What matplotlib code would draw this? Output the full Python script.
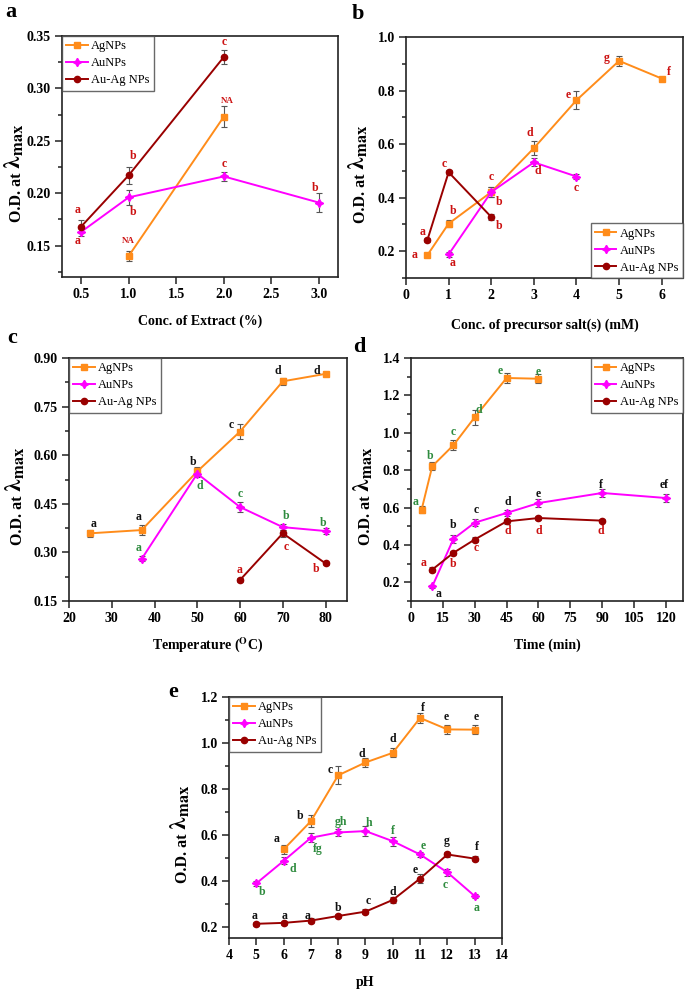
import matplotlib.pyplot as plt
from matplotlib.ticker import MultipleLocator, FormatStrFormatter
from matplotlib.transforms import offset_copy

plt.rcParams['font.family'] = ['Liberation Serif', 'DejaVu Serif']
plt.rcParams['font.weight'] = 'bold'
plt.rcParams['axes.labelweight'] = 'bold'
plt.rcParams['mathtext.fontset'] = 'stix'

AG_COL = '#FF8C1A'
AU_COL = '#FF00FF'
MIX_COL = '#990000'
RED = '#CC1111'
GREEN = '#2E8B3E'
BLACK = '#111111'

# ---------------- a : concentration of extract
a_ag_x = [1.0, 2.0]
a_ag_y = [0.140, 0.273]
a_ag_err = [0.005, 0.010]
a_ag_grp = ["NA", "NA"]
a_au_x = [0.5, 1.0, 2.0, 3.0]
a_au_y = [0.163, 0.196, 0.216, 0.191]
a_au_err = [0.004, 0.007, 0.004, 0.009]
a_au_grp = ["a", "b", "c", "b"]
a_mix_x = [0.5, 1.0, 2.0]
a_mix_y = [0.168, 0.217, 0.330]
a_mix_err = [0.006, 0.008, 0.007]
a_mix_grp = ["a", "b", "c"]

# ---------------- b : precursor salt
b_ag_x = [0.5, 1, 2, 3, 4, 5, 6]
b_ag_y = [0.185, 0.303, 0.421, 0.585, 0.764, 0.911, 0.845]
b_ag_err = [0.005, 0.012, 0.018, 0.025, 0.034, 0.018, 0.005]
b_ag_grp = ["a", "b", "c", "d", "e", "g", "f"]
b_au_x = [1, 2, 3, 4]
b_au_y = [0.188, 0.421, 0.532, 0.479]
b_au_err = [0.008, 0.02, 0.015, 0.01]
b_au_grp = ["a", "b", "d", "c"]
b_mix_x = [0.5, 1, 2]
b_mix_y = [0.241, 0.495, 0.328]
b_mix_err = [0.008, 0.008, 0.01]
b_mix_grp = ["a", "c", "b"]

# ---------------- c : temperature
c_ag_x = [25, 37, 50, 60, 70, 80]
c_ag_y = [0.359, 0.369, 0.550, 0.673, 0.828, 0.851]
c_ag_err = [0.01, 0.015, 0.015, 0.022, 0.01, 0.007]
c_ag_grp = ["a", "a", "b", "c", "d", "d"]
c_au_x = [37, 50, 60, 70, 80]
c_au_y = [0.280, 0.543, 0.440, 0.378, 0.366]
c_au_err = [0.008, 0.01, 0.015, 0.01, 0.01]
c_au_grp = ["a", "d", "c", "b", "b"]
c_mix_x = [60, 70, 80]
c_mix_y = [0.215, 0.359, 0.266]
c_mix_err = [0.006, 0.01, 0.005]
c_mix_grp = ["a", "c", "b"]

# ---------------- d : time
d_ag_x = [5, 10, 20, 30, 45, 60]
d_ag_y = [0.589, 0.821, 0.934, 1.083, 1.293, 1.289]
d_ag_err = [0.02, 0.02, 0.025, 0.04, 0.025, 0.025]
d_ag_grp = ["a", "b", "c", "d", "e", "e"]
d_au_x = [10, 20, 30, 45, 60, 90, 120]
d_au_y = [0.178, 0.433, 0.519, 0.571, 0.624, 0.678, 0.651]
d_au_err = [0.01, 0.02, 0.02, 0.015, 0.02, 0.02, 0.02]
d_au_grp = ["a", "b", "c", "d", "e", "f", "ef"]
d_mix_x = [10, 20, 30, 45, 60, 90]
d_mix_y = [0.268, 0.358, 0.429, 0.526, 0.544, 0.530]
d_mix_err = [0.015, 0.01, 0.015, 0.015, 0.01, 0.008]
d_mix_grp = ["a", "b", "c", "d", "d", "d"]

# ---------------- e : pH
e_ag_x = [6, 7, 8, 9, 10, 11, 12, 13]
e_ag_y = [0.536, 0.659, 0.859, 0.915, 0.957, 1.109, 1.059, 1.058]
e_ag_err = [0.02, 0.025, 0.04, 0.02, 0.02, 0.02, 0.02, 0.02]
e_ag_grp = ["a", "b", "c", "d", "d", "f", "e", "e"]
e_au_x = [5, 6, 7, 8, 9, 10, 11, 12, 13]
e_au_y = [0.388, 0.486, 0.587, 0.610, 0.616, 0.572, 0.514, 0.436, 0.333]
e_au_err = [0.01, 0.015, 0.02, 0.015, 0.02, 0.02, 0.01, 0.015, 0.01]
e_au_grp = ["b", "d", "fg", "gh", "h", "f", "e", "c", "a"]
e_mix_x = [5, 6, 7, 8, 9, 10, 11, 12, 13]
e_mix_y = [0.212, 0.216, 0.226, 0.246, 0.265, 0.316, 0.409, 0.514, 0.496]
e_mix_err = [0.01, 0.01, 0.01, 0.01, 0.01, 0.012, 0.02, 0.01, 0.01]
e_mix_grp = ["a", "a", "a", "b", "c", "d", "e", "g", "f"]

# letter offsets (pixels) from the point
a_ag_off = [(0, 15), (3, 16)]
a_au_off = [(-3, -9), (4, -15), (0, 12), (-4, 15)]
a_mix_off = [(-3, 17), (4, 19), (0, 15)]
b_ag_off = [(-13, 0), (4, 13), (0, 15), (-4, 15), (-8, 5), (-12, 3), (7, 7)]
b_au_off = [(4, -9), (8, -10), (4, -9), (0, -11)]
b_mix_off = [(-5, 8), (-4, 8), (8, -9)]
c_ag_off = [(3, 9), (-3, 13), (-4, 9), (-9, 7), (-5, 10), (-9, 3)]
c_au_off = [(-3, 11), (3, -12), (0, 13), (3, 11), (-2, 8)]
c_mix_off = [(0, 10), (3, -14), (-9, -6)]
d_ag_off = [(-6, 8), (-2, 10), (0, 13), (4, 7), (-6, 7), (0, 7)]
d_au_off = [(6, -8), (0, 14), (1, 13), (1, 11), (0, 9), (-1, 8), (-2, 13)]
d_mix_off = [(-9, 7), (0, -11), (1, -8), (1, -10), (0, -13), (-1, -10)]
e_ag_off = [(-7, 10), (-11, 5), (-8, 5), (-4, 8), (0, 14), (3, 10), (-1, 12), (2, 13)]
e_au_off = [(6, -9), (9, -8), (7, -11), (3, 10), (4, 8), (0, 10), (3, 8), (-2, -13), (2, -12)]
e_mix_off = [(-2, 8), (1, 7), (-3, 5), (0, 8), (3, 11), (0, 8), (-5, 9), (-1, 13), (2, 12)]


def series(ax, x, y, err, color, marker, grp, off, tcol, ms=4.5):
    c = ax.errorbar(x, y, yerr=err, color=color, marker=marker, ms=ms, lw=1.4,
                    ecolor='#555555', elinewidth=0.8, capsize=2, capthick=0.8)
    for xi, yi, g, (dx, dy) in zip(x, y, grp, off):
        fs = 6.5 if g == "NA" else 8.5
        ax.annotate(g, (xi, yi), xytext=(dx, dy), textcoords='offset pixels',
                    ha='center', va='center', color=tcol, fontsize=fs, fontweight='bold')
    return c[0]


def frame(ax, xlim, ylim, xstep, ystep, yminor, xfmt, yfmt, xlabel, xl_y, yl_dx):
    ax.set_xlim(xlim)
    ax.set_ylim(ylim)
    ax.xaxis.set_major_locator(MultipleLocator(xstep))
    ax.yaxis.set_major_locator(MultipleLocator(ystep))
    ax.yaxis.set_minor_locator(MultipleLocator(yminor))
    ax.xaxis.set_major_formatter(FormatStrFormatter(xfmt))
    ax.yaxis.set_major_formatter(FormatStrFormatter(yfmt))
    ax.tick_params(which='both', direction='out', top=False, right=False, width=1.1, colors='#222222')
    ax.tick_params(which='major', length=5, labelsize=10, pad=3, labelcolor='black')
    ax.tick_params(which='minor', length=3)
    for s in ax.spines.values():
        s.set_linewidth(1.2)
        s.set_color('#222222')
    ax.set_xlabel(xlabel, fontsize=10, va='center')
    ax.xaxis.set_label_coords(0.5, xl_y)
    # y label: "O.D. at" plus a larger lambda_max, both rotated
    tr = offset_copy(ax.transAxes, fig=ax.figure, x=yl_dx, y=0, units='dots')
    ax.text(0, 0.435, 'O.D. at', transform=tr, rotation=90, rotation_mode='anchor',
            ha='right', va='baseline', fontsize=11.5, fontweight='bold')
    ax.text(0, 0.447, r'$\mathrm{\lambda}_{\mathbf{max}}$', transform=tr, rotation=90,
            rotation_mode='anchor', ha='left', va='baseline', fontsize=17)


fig = plt.figure(figsize=(6.85, 9.9), dpi=100)
ax_a = fig.add_axes([0.0905, 0.7202, 0.403, 0.2434])
ax_b = fig.add_axes([0.5927, 0.7192, 0.4044, 0.2434])
ax_c = fig.add_axes([0.1007, 0.3929, 0.4058, 0.2455])
ax_d = fig.add_axes([0.6, 0.3929, 0.397, 0.2455])
ax_e = fig.add_axes([0.3343, 0.0525, 0.3985, 0.2434])

STAR = (4, 1, 0)
panels = [
    (ax_a, (a_ag_x, a_ag_y, a_ag_err, a_ag_grp, a_ag_off, RED),
     (a_au_x, a_au_y, a_au_err, a_au_grp, a_au_off, RED),
     (a_mix_x, a_mix_y, a_mix_err, a_mix_grp, a_mix_off, RED)),
    (ax_b, (b_ag_x, b_ag_y, b_ag_err, b_ag_grp, b_ag_off, RED),
     (b_au_x, b_au_y, b_au_err, b_au_grp, b_au_off, RED),
     (b_mix_x, b_mix_y, b_mix_err, b_mix_grp, b_mix_off, RED)),
    (ax_c, (c_ag_x, c_ag_y, c_ag_err, c_ag_grp, c_ag_off, BLACK),
     (c_au_x, c_au_y, c_au_err, c_au_grp, c_au_off, GREEN),
     (c_mix_x, c_mix_y, c_mix_err, c_mix_grp, c_mix_off, RED)),
    (ax_d, (d_ag_x, d_ag_y, d_ag_err, d_ag_grp, d_ag_off, GREEN),
     (d_au_x, d_au_y, d_au_err, d_au_grp, d_au_off, BLACK),
     (d_mix_x, d_mix_y, d_mix_err, d_mix_grp, d_mix_off, RED)),
    (ax_e, (e_ag_x, e_ag_y, e_ag_err, e_ag_grp, e_ag_off, BLACK),
     (e_au_x, e_au_y, e_au_err, e_au_grp, e_au_off, GREEN),
     (e_mix_x, e_mix_y, e_mix_err, e_mix_grp, e_mix_off, BLACK)),
]

handles = {}
for ax, ag, au, mix in panels:
    h1 = series(ax, *ag[:3], AG_COL, 's', *ag[3:], ms=4)
    h2 = series(ax, *au[:3], AU_COL, STAR, *au[3:], ms=6)
    h3 = series(ax, *mix[:3], MIX_COL, 'o', *mix[3:], ms=4.5)
    handles[ax] = [h1, h2, h3]

frame(ax_a, (0.3, 3.2), (0.12, 0.35), 0.5, 0.05, 0.025, '%.1f', '%.2f',
      'Conc. of Extract (%)', -0.183, -41)
frame(ax_b, (0, 6.5), (0.1, 1.0), 1, 0.2, 0.1, '%d', '%.1f',
      'Conc. of precursor salt(s) (mM)', -0.195, -41)
frame(ax_c, (20, 85), (0.15, 0.9), 10, 0.15, 0.075, '%d', '%.2f',
      r'Temperature ($^{\mathbf{O}}$C)', -0.18, -47)
frame(ax_d, (0, 128), (0.1, 1.4), 15, 0.2, 0.1, '%d', '%.1f',
      'Time (min)', -0.18, -41)
frame(ax_e, (4, 14), (0.15, 1.2), 1, 0.2, 0.1, '%d', '%.1f',
      'pH', -0.183, -42)

locs = {ax_a: 'upper left', ax_b: 'lower right', ax_c: 'upper left',
        ax_d: 'upper right', ax_e: 'upper left'}
for ax, loc in locs.items():
    leg = ax.legend(handles[ax], ['AgNPs', 'AuNPs', 'Au-Ag NPs'], loc=loc,
                    borderaxespad=0, fancybox=False, edgecolor='#444444',
                    prop={'size': 9, 'weight': 'normal'}, handlelength=1.7,
                    handletextpad=0.3, labelspacing=0.4, borderpad=0.35)
    leg.get_frame().set_linewidth(1.0)

for lab, (px, py) in zip("abcde", [(11, 17), (358, 19), (12, 343), (359, 352), (173, 697)]):
    fig.text(px / 685, 1 - py / 990, lab, fontsize=16, fontweight='bold',
             ha='center', va='baseline')

fig.savefig('out.png', dpi=100)
